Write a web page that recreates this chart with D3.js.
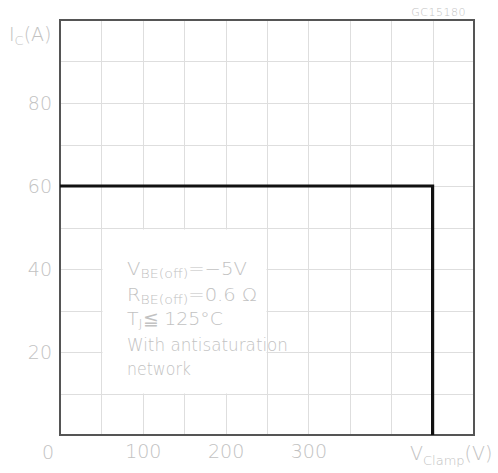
<!DOCTYPE html>
<html>
<head>
<meta charset="utf-8">
<script src="https://cdn.jsdelivr.net/npm/d3@7"></script>
<style>
  html, body { margin: 0; padding: 0; background: #fff; }
  svg { display: block; }
  text { font-family: "DejaVu Sans Light", "DejaVu Sans", sans-serif; font-weight: 200; fill: #c2c2c2; }
</style>
</head>
<body>
<svg id="chart" width="498" height="473"></svg>
<script>
// Reverse-bias safe operating area: collector current vs. clamp voltage
const xTickValues = [100, 200, 300];
const yTickValues = [20, 40, 60, 80];
const xGrid = d3.range(0, 501, 50);
const yGrid = d3.range(0, 101, 10);

// SOA boundary
const soaVoltage = [0, 450, 450];
const soaCurrent = [60, 60, 0];

// Condition notes
const noteLines = [
  { main: "V", sub: "BE(off)", rest: "=\u22125V", width: 120 },
  { main: "R", sub: "BE(off)", rest: "=0.6 \u03a9", width: 130 },
  { main: "T", sub: "J", rest: "\u2266 125\u00b0C", width: 96 },
  { main: "With  antisaturation", sub: "", rest: "", width: 161 },
  { main: "network", sub: "", rest: "", width: 64 }
];

const svg = d3.select("#chart");
const m = { left: 60, right: 474, top: 20, bottom: 435 };
const x = d3.scaleLinear().domain([0, 500]).range([m.left, m.right]);
const y = d3.scaleLinear().domain([0, 100]).range([m.bottom, m.top]);
const FONT = "\"DejaVu Sans Light\", \"DejaVu Sans\", sans-serif";
const GREY = "#c2c2c2";

// grid
const grid = svg.append("g").attr("stroke", "#dedede").attr("stroke-width", 1);
grid.selectAll("line.v").data(xGrid).join("line")
  .attr("x1", d => Math.round(x(d)) + 0.5).attr("x2", d => Math.round(x(d)) + 0.5)
  .attr("y1", m.top).attr("y2", m.bottom);
grid.selectAll("line.h").data(yGrid).join("line")
  .attr("y1", d => Math.round(y(d)) + 0.5).attr("y2", d => Math.round(y(d)) + 0.5)
  .attr("x1", m.left).attr("x2", m.right);

// clear panel behind the notes
svg.append("rect")
  .attr("x", Math.round(x(50)) + 1.5).attr("y", Math.round(y(50)) + 1.5)
  .attr("width", Math.round(x(250)) - Math.round(x(50)) - 2)
  .attr("height", Math.round(y(10)) - Math.round(y(50)) - 2)
  .attr("fill", "#fff");

// frame
svg.append("rect")
  .attr("x", m.left).attr("y", m.top)
  .attr("width", m.right - m.left).attr("height", m.bottom - m.top)
  .attr("fill", "none").attr("stroke", "#555").attr("stroke-width", 2);

// SOA curve
const pts = soaVoltage.map((v, i) => [v, soaCurrent[i]]);
svg.append("path")
  .datum(pts)
  .attr("d", d3.line().x(d => x(d[0])).y(d => y(d[1])))
  .attr("fill", "none").attr("stroke", "#111").attr("stroke-width", 3.2)
  .attr("stroke-linejoin", "miter");

// axes
const xAxis = svg.append("g")
  .attr("transform", `translate(0,${m.bottom})`)
  .call(d3.axisBottom(x).tickValues(xTickValues).tickSize(0).tickPadding(10));
xAxis.select(".domain").remove();
xAxis.selectAll("text").attr("font-size", 19).style("font-family", FONT).style("font-weight", 200).attr("fill", GREY);

const yAxis = svg.append("g")
  .attr("transform", `translate(${m.left},0)`)
  .call(d3.axisLeft(y).tickValues(yTickValues).tickSize(0).tickPadding(8));
yAxis.select(".domain").remove();
yAxis.selectAll("text").attr("font-size", 19).style("font-family", FONT).style("font-weight", 200).attr("fill", GREY);

// origin label
svg.append("text").attr("x", 48).attr("y", 459).attr("text-anchor", "middle")
  .attr("font-size", 19).text("0");

// axis titles
const yt = svg.append("text").attr("x", 9).attr("y", 41).attr("font-size", 19);
yt.append("tspan").text("I");
yt.append("tspan").attr("font-size", 13).attr("dy", 4).text("C");
yt.append("tspan").attr("dy", -4).text("(A)");

const xt = svg.append("text").attr("x", 410).attr("y", 460).attr("font-size", 19);
xt.append("tspan").text("V");
xt.append("tspan").attr("font-size", 13).attr("dy", 5).text("Clamp");
xt.append("tspan").attr("dy", -5).text("(V)");

// drawing code
svg.append("text").attr("x", 466).attr("y", 16).attr("text-anchor", "end")
  .attr("font-size", 11).attr("letter-spacing", 0.5).text("GC15180");

// notes
const baselines = [275, 301, 325, 351, 375];
noteLines.forEach((ln, i) => {
  const t = svg.append("text").attr("x", 127).attr("y", baselines[i]).attr("font-size", 18)
    .attr("textLength", ln.width).attr("lengthAdjust", "spacingAndGlyphs");
  if (ln.sub) {
    t.append("tspan").text(ln.main);
    t.append("tspan").attr("font-size", 13).attr("dy", 3).text(ln.sub);
    t.append("tspan").attr("dy", -3).text(ln.rest);
  } else {
    t.text(ln.main);
  }
});
</script>
</body>
</html>
